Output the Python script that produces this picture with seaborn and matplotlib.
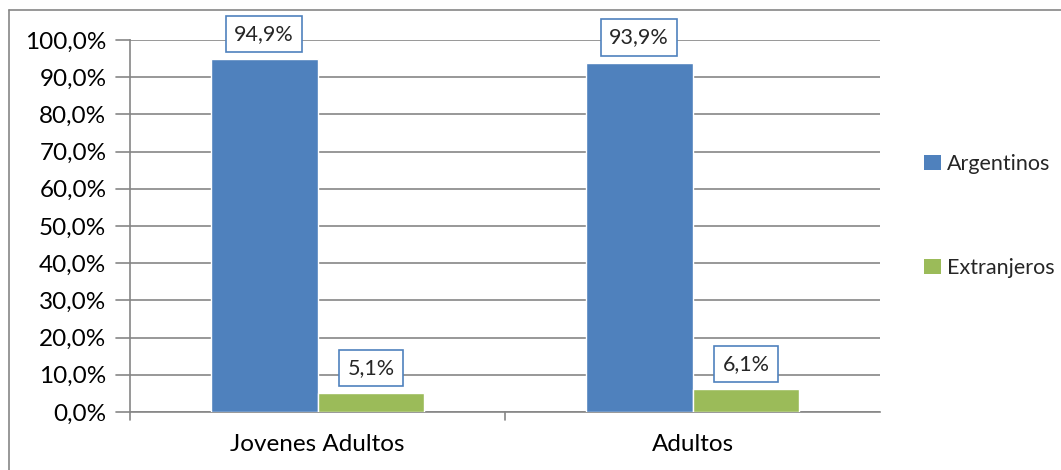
import numpy as np
import pandas as pd
import seaborn as sns
import matplotlib.pyplot as plt
from matplotlib.lines import Line2D
from matplotlib.patches import Patch

# data
categories = ["Jovenes Adultos", "Adultos"]
argentinos = [0.949, 0.939]
extranjeros = [0.051, 0.061]
series = ["Argentinos", "Extranjeros"]

df = pd.DataFrame({
    "grupo": categories * 2,
    "origen": [series[0]] * 2 + [series[1]] * 2,
    "valor": argentinos + extranjeros,
})

blue = "#4F81BD"
green = "#9BBB59"
grid = "#868686"

sns.set_style("white")
plt.rcParams["font.family"] = ["Lato", "DejaVu Sans"]

fig = plt.figure(figsize=(10.61, 4.70), dpi=100)
ax = fig.add_axes([130 / 1061, 1 - 412 / 470, 750 / 1061, 372 / 470])

sns.barplot(data=df, x="grupo", y="valor", hue="origen",
            palette=[blue, green], width=0.57, saturation=1,
            ax=ax, legend=False, zorder=3)

ax.set_ylim(0, 1)
ax.set_xlim(-0.5, 1.5)
yt = np.arange(0, 1.01, 0.1)
ax.set_yticks(yt)
ax.set_yticklabels([f"{v*100:.1f}%".replace(".", ",") for v in yt], fontsize=17.5)
ax.set_xticks([0, 1])
ax.set_xticklabels(categories, fontsize=17.5)
ax.set_xlabel("")
ax.set_ylabel("")
ax.yaxis.grid(True, color=grid, linewidth=1.2, zorder=0)
ax.set_axisbelow(True)
for s in ["top", "right"]:
    ax.spines[s].set_visible(False)
for s in ["left", "bottom"]:
    ax.spines[s].set_color(grid)
    ax.spines[s].set_linewidth(1.2)
ax.tick_params(axis="y", length=0, pad=17, colors="black")
ax.tick_params(axis="x", length=0, pad=16, colors="black")

# y tick marks and category separators like Excel
for v in yt:
    ax.plot([-0.537, -0.5], [v, v], color=grid, lw=1.2, clip_on=False)
for xs in [-0.5, 0.5]:
    ax.plot([xs, xs], [0, -0.022], color=grid, lw=1.2, clip_on=False)

# data labels in boxes
for cont in ax.containers:
    for bar in cont:
        h = bar.get_height()
        ax.annotate(f"{h*100:.1f}%".replace(".", ","),
                    (bar.get_x() + bar.get_width() / 2, h),
                    xytext=(0, 11), textcoords="offset points",
                    ha="center", va="bottom", fontsize=15.5, zorder=5,
                    bbox=dict(boxstyle="square,pad=0.38", fc="white",
                              ec=blue, lw=1.2))

handles = [Patch(facecolor=blue, edgecolor="none"),
           Patch(facecolor=green, edgecolor="none")]
fig.legend(handles, series, loc="center left", bbox_to_anchor=(905 / 1061, 1 - 216 / 470),
           frameon=False, fontsize=15.5, handlelength=0.75, handleheight=0.75,
           handletextpad=0.3, labelspacing=3.9)

# chart border (left and top visible)
fig.add_artist(Line2D([9 / 1061, 9 / 1061], [0, 1 - 10 / 470], color=grid, lw=1.2,
                      transform=fig.transFigure))
fig.add_artist(Line2D([9 / 1061, 1], [1 - 10 / 470, 1 - 10 / 470], color=grid, lw=1.2,
                      transform=fig.transFigure))

fig.savefig("out.png", dpi=100)
